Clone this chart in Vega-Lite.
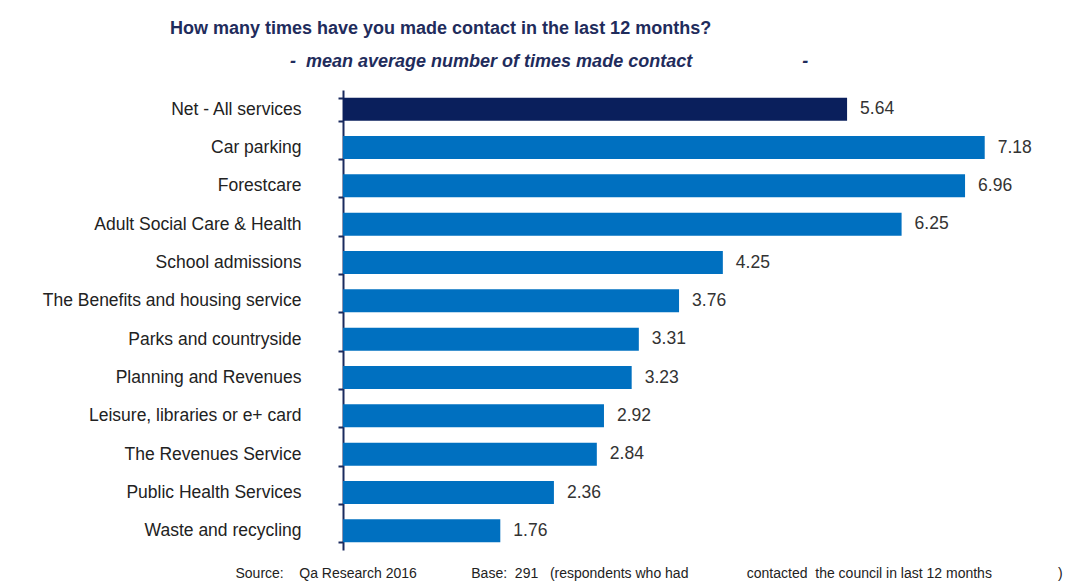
{
  "$schema": "https://vega.github.io/schema/vega-lite/v6.json",
  "width": 715,
  "height": 460,
  "autosize": "none",
  "padding": {"left": 343, "top": 90, "right": 34, "bottom": 34},
  "background": "white",
  "config": {"view": {"stroke": null}},
  "title": {
    "text": "How many times have you made contact in the last 12 months?",
    "subtitle": "\u200b\u00a0\u00a0\u00a0\u00a0\u00a0\u00a0\u00a0\u00a0\u00a0\u00a0\u00a0\u00a0\u00a0\u00a0\u00a0\u00a0\u00a0\u00a0\u00a0\u00a0\u00a0\u00a0\u00a0\u00a0-\u00a0\u00a0mean average number of times made contact\u00a0\u00a0\u00a0\u00a0\u00a0\u00a0\u00a0\u00a0\u00a0\u00a0\u00a0\u00a0\u00a0\u00a0\u00a0\u00a0\u00a0\u00a0\u00a0\u00a0\u00a0\u00a0-",
    "anchor": "start",
    "frame": "group",
    "dx": -173,
    "font": "Liberation Sans",
    "fontSize": 18,
    "fontWeight": "bold",
    "color": "#1f2c5c",
    "subtitleFont": "Liberation Sans",
    "subtitleFontSize": 18,
    "subtitleFontWeight": "bold",
    "subtitleFontStyle": "italic",
    "subtitleColor": "#1f2c5c",
    "subtitlePadding": 15,
    "offset": 10
  },
  "data": {
    "values": [
      {"service": "Net - All services", "mean": 5.64, "group": "Net"},
      {"service": "Car parking", "mean": 7.18, "group": "Service"},
      {"service": "Forestcare", "mean": 6.96, "group": "Service"},
      {"service": "Adult Social Care & Health", "mean": 6.25, "group": "Service"},
      {"service": "School admissions", "mean": 4.25, "group": "Service"},
      {"service": "The Benefits and housing service", "mean": 3.76, "group": "Service"},
      {"service": "Parks and countryside", "mean": 3.31, "group": "Service"},
      {"service": "Planning and Revenues", "mean": 3.23, "group": "Service"},
      {"service": "Leisure, libraries or e+ card", "mean": 2.92, "group": "Service"},
      {"service": "The Revenues Service", "mean": 2.84, "group": "Service"},
      {"service": "Public Health Services", "mean": 2.36, "group": "Service"},
      {"service": "Waste and recycling", "mean": 1.76, "group": "Service"}
    ]
  },
  "encoding": {
    "y": {
      "field": "service",
      "type": "nominal",
      "sort": null,
      "scale": {"paddingInner": 0.4, "paddingOuter": 0.2},
      "axis": {
        "title": null,
        "domainColor": "#1a2b5f",
        "domainWidth": 2,
        "tickColor": "#1a2b5f",
        "tickWidth": 2,
        "tickSize": 5,
        "tickBand": "extent",
        "labelPadding": 37,
        "labelFont": "Liberation Sans",
        "labelFontSize": 17.5,
        "labelColor": "#222222",
        "labelLimit": 400,
        "grid": false
      }
    },
    "x": {
      "field": "mean",
      "type": "quantitative",
      "scale": {"domain": [0, 8], "nice": false},
      "axis": {
        "labels": false,
        "ticks": false,
        "domain": false,
        "grid": false,
        "title": "Source:\u00a0\u00a0\u00a0\u00a0Qa Research 2016\u00a0\u00a0\u00a0\u00a0\u00a0\u00a0\u00a0\u00a0\u00a0\u00a0\u00a0\u00a0\u00a0\u00a0Base:\u00a0\u00a0291\u00a0\u00a0\u00a0(respondents who had\u00a0\u00a0\u00a0\u00a0\u00a0\u00a0\u00a0\u00a0\u00a0\u00a0\u00a0\u00a0\u00a0\u00a0\u00a0contacted\u00a0\u00a0the council in last 12 months\u00a0\u00a0\u00a0\u00a0\u00a0\u00a0\u00a0\u00a0\u00a0\u00a0\u00a0\u00a0\u00a0\u00a0\u00a0\u00a0\u00a0)",
        "titleFont": "Liberation Sans",
        "titleFontSize": 14,
        "titleFontWeight": "normal",
        "titleColor": "#222222",
        "titleAnchor": "start",
        "titleAlign": "left",
        "titleBaseline": "middle",
        "titleX": -108,
        "titleY": 23
      }
    }
  },
  "layer": [
    {
      "mark": {"type": "bar"},
      "encoding": {
        "color": {
          "field": "group",
          "type": "nominal",
          "scale": {"domain": ["Net", "Service"], "range": ["#0a1f5c", "#0070c0"]},
          "legend": null
        }
      }
    },
    {
      "mark": {"type": "text", "align": "left", "baseline": "middle", "dx": 13, "font": "Liberation Sans", "fontSize": 17.5, "color": "#333333"},
      "encoding": {
        "text": {"field": "mean", "type": "quantitative", "format": ".2f"}
      }
    }
  ]
}
